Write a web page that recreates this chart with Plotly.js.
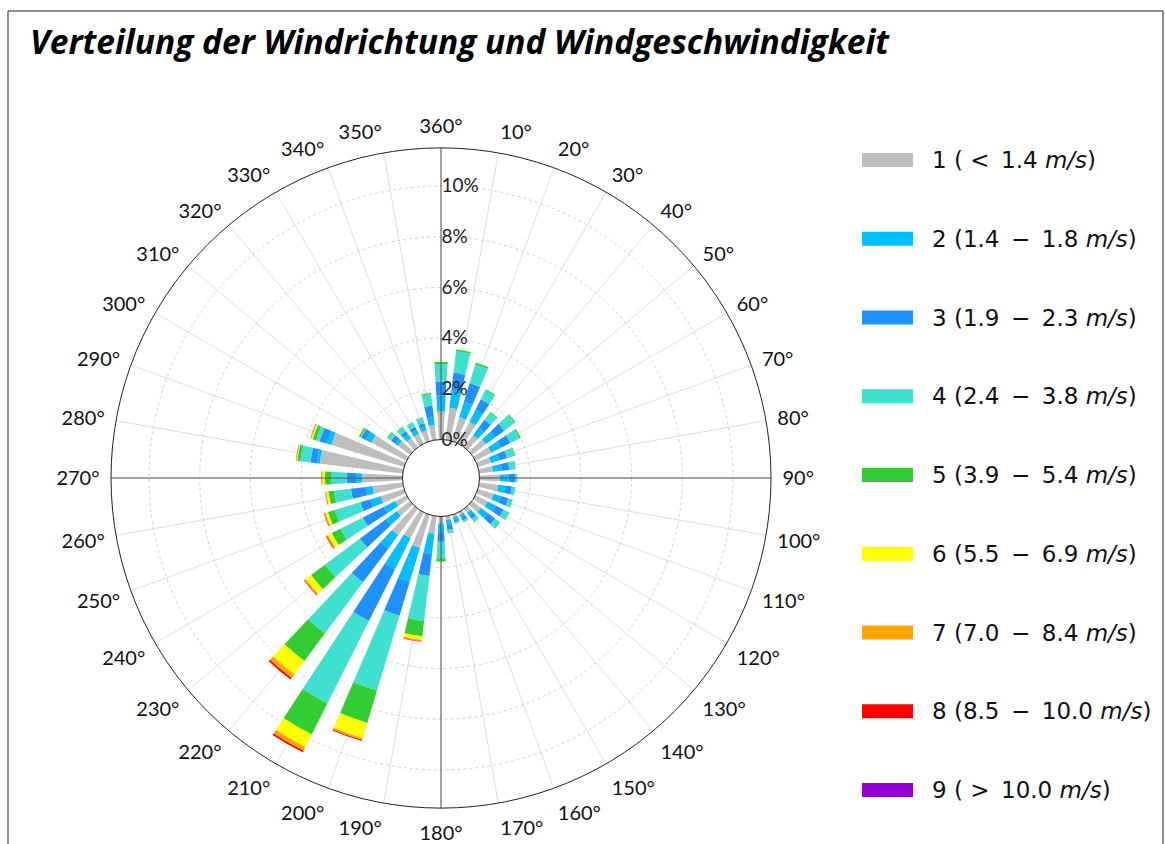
<!DOCTYPE html>
<html>
<head>
<meta charset="utf-8">
<script src="https://cdn.plot.ly/plotly-3.0.1.min.js"></script>
<style>html,body{margin:0;padding:0;background:#fff;}#chart{width:1165px;height:844px;}</style>
</head>
<body>
<div id="chart"></div>
<script>
// Wind directions (degrees)
const directions = [10,20,30,40,50,60,70,80,90,100,110,120,130,140,150,160,170,180,190,200,210,220,230,240,250,260,270,280,290,300,310,320,330,340,350,360];

// Speed classes (legend labels)
const speedClasses = [
  '1 ( &lt;\u20021.4 <i>m/s</i>)',
  '2 (1.4\u2002\u2212\u20021.8 <i>m/s</i>)',
  '3 (1.9\u2002\u2212\u20022.3 <i>m/s</i>)',
  '4 (2.4\u2002\u2212\u20023.8 <i>m/s</i>)',
  '5 (3.9\u2002\u2212\u20025.4 <i>m/s</i>)',
  '6 (5.5\u2002\u2212\u20026.9 <i>m/s</i>)',
  '7 (7.0\u2002\u2212\u20028.4 <i>m/s</i>)',
  '8 (8.5\u2002\u2212\u200210.0 <i>m/s</i>)',
  '9 ( &gt;\u200210.0 <i>m/s</i>)'
];
const classColors = ['#bebebe','#00bfff','#1e90ff','#40e0d0','#32cd32','#ffff00','#ffa500','#ff0000','#9400d3'];

// Frequencies (%) per class, in direction order above
const class1 = [1.27,0.99,0.97,0.60,0.70,0.70,0.55,0.55,0.81,0.75,0.65,0.55,0.45,0.20,0.12,0.10,0.15,0.27,0.70,1.36,1.15,1.30,0.65,0.50,0.97,1.20,1.60,3.30,3.00,1.56,0.59,0.45,0.42,0.45,0.60,1.10];
const class2 = [0.73,0.63,0.53,0.35,0.45,0.45,0.35,0.35,0.33,0.30,0.30,0.35,0.35,0.15,0.12,0.10,0.20,0.35,0.80,1.40,1.37,0.66,0.55,0.50,0.42,0.26,0.21,0.12,0.20,0.25,0.15,0.20,0.18,0.15,0.30,0.65];
const class3 = [0.67,0.77,0.46,0.40,0.45,0.40,0.30,0.30,0.26,0.25,0.30,0.35,0.35,0.15,0.12,0.10,0.20,0.38,0.87,1.40,2.28,1.66,1.28,0.94,0.42,0.60,0.39,0.25,0.29,0.20,0.20,0.15,0.14,0.15,0.45,0.53];
const class4 = [0.85,0.78,0.40,0.35,0.50,0.40,0.30,0.22,0.08,0.13,0.17,0.24,0.22,0.14,0.08,0.06,0.12,0.65,1.80,3.08,3.64,2.52,1.72,0.99,1.05,0.67,0.60,0.40,0.14,0.04,0.17,0.19,0.20,0.22,0.47,0.70];
const class5 = [0.07,0.07,0.04,0.04,0.05,0.05,0.04,0.03,0.01,0.01,0.02,0.02,0.03,0.02,0.01,0.01,0.02,0.13,0.60,1.33,1.37,1.35,0.68,0.38,0.28,0.22,0.26,0.12,0.14,0.06,0.03,0.03,0.02,0.02,0.05,0.08];
const class6 = [0.01,0.01,0,0,0,0,0,0,0,0,0,0,0,0,0,0,0,0.01,0.15,0.63,0.55,0.66,0.26,0.16,0.10,0.09,0.10,0.03,0.06,0.02,0,0,0,0,0,0.01];
const class7 = [0,0,0,0,0,0,0,0,0,0,0,0,0,0,0,0,0,0,0.05,0.08,0.17,0.18,0.06,0.07,0.05,0.04,0.04,0.02,0.03,0,0,0,0,0,0,0];
const class8 = [0,0,0,0,0,0,0,0,0,0,0,0,0,0,0,0,0,0,0.02,0.04,0.07,0.07,0.03,0.03,0.02,0.01,0.01,0.01,0.01,0,0,0,0,0,0,0];
const class9 = [0,0,0,0,0,0,0,0,0,0,0,0,0,0,0,0,0,0,0,0,0,0,0,0,0,0,0,0,0,0,0,0,0,0,0,0];
const classValues = [class1,class2,class3,class4,class5,class6,class7,class8,class9];

// Axis tick labels
const angleTicks = [0,10,20,30,40,50,60,70,80,90,100,110,120,130,140,150,160,170,180,190,200,210,220,230,240,250,260,270,280,290,300,310,320,330,340,350];
const angleTickText = ['360°','10°','20°','30°','40°','50°','60°','70°','80°','90°','100°','110°','120°','130°','140°','150°','160°','170°','180°','190°','200°','210°','220°','230°','240°','250°','260°','270°','280°','290°','300°','310°','320°','330°','340°','350°'];
const radialTicks = [0,2,4,6,8,10];
const radialTickText = ['0%','2%','4%','6%','8%','10%'];
const radialMax = 11.5;
const titleText = 'Verteilung der Windrichtung und Windgeschwindigkeit';

const W = 1165, H = 844;
const px = x => x / W;
const py = y => 1 - y / H;

const traces = [];
// main cross lines (N-S, E-W), drawn below bars
traces.push({
  type: 'scatterpolar', mode: 'lines', showlegend: false, hoverinfo: 'skip',
  r: [0, radialMax, null, 0, radialMax, null, 0, radialMax, null, 0, radialMax],
  theta: [0, 0, null, 90, 90, null, 180, 180, null, 270, 270],
  line: {color: '#555', width: 1}, connectgaps: false
});
classValues.forEach((vals, i) => {
  traces.push({
    type: 'barpolar', name: speedClasses[i], r: vals, theta: directions,
    width: 6.5, marker: {color: classColors[i], line: {width: 0}},
    showlegend: false
  });
});

const shapes = [{
  type: 'rect', xref: 'paper', yref: 'paper',
  x0: px(8), x1: px(1163), y0: py(850), y1: py(11),
  line: {color: '#222', width: 1}, fillcolor: 'rgba(0,0,0,0)', layer: 'below'
}];
const annotations = [];
speedClasses.forEach((lab, i) => {
  const yc = 160 + i * 78.75;
  shapes.push({
    type: 'rect', xref: 'paper', yref: 'paper',
    x0: px(862), x1: px(913), y0: py(yc + 7), y1: py(yc - 7),
    fillcolor: classColors[i], line: {width: 0}
  });
  annotations.push({
    xref: 'paper', yref: 'paper', x: px(930), y: py(yc), xanchor: 'left', yanchor: 'middle',
    text: lab, showarrow: false, font: {family: 'DejaVu Sans', size: 23, color: '#111'}
  });
});

const layout = {
  width: W, height: H,
  margin: {l: 0, r: 0, t: 0, b: 0},
  paper_bgcolor: '#fff',
  title: {
    text: titleText, x: px(30), xanchor: 'left', y: py(42), yanchor: 'middle',
    font: {family: 'Open Sans', size: 33.5, weight: 700, style: 'italic', color: '#000'}
  },
  showlegend: false,
  shapes: shapes,
  annotations: annotations,
  polar: {
    domain: {x: [px(111), px(771)], y: [py(808), py(148)]},
    bgcolor: '#fff',
    hole: 38.5 / 330,
    barmode: 'stack',
    angularaxis: {
      rotation: 90, direction: 'clockwise',
      tickvals: angleTicks, ticktext: angleTickText,
      showline: true, linecolor: '#222', linewidth: 1,
      showgrid: true, gridcolor: '#dedede', gridwidth: 1,
      ticks: 'outside', ticklen: 7, tickcolor: 'rgba(0,0,0,0)',
      tickfont: {family: 'Lato', size: 20, color: '#111'}
    },
    radialaxis: {
      range: [0, radialMax], angle: 90, side: 'clockwise',
      tickvals: radialTicks, ticktext: radialTickText, tickangle: 90,
      showline: false, ticks: '',
      showgrid: true, gridcolor: '#d0d0d0', griddash: 'dot', gridwidth: 1,
      tickfont: {family: 'Lato', size: 19, color: '#222'},
      layer: 'above traces'
    }
  }
};

Plotly.newPlot('chart', traces, layout, {displayModeBar: false, staticPlot: true});
</script>
</body>
</html>
